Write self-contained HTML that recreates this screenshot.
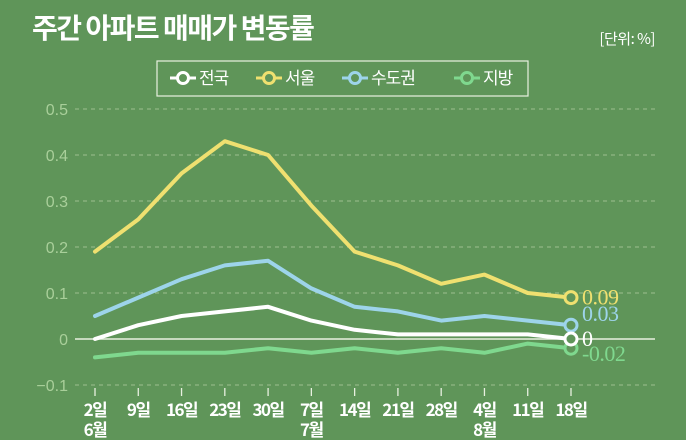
<!DOCTYPE html>
<html><head><meta charset="utf-8"><style>
html,body{margin:0;padding:0;background:#5f9559;}
svg{display:block;font-family:"Liberation Sans","Noto Sans CJK KR",sans-serif;}
</style></head><body>
<svg id="chart" width="686" height="440" viewBox="0 0 686 440">
<rect width="686" height="440" fill="#5f9559"/>
<text x="32" y="38" font-size="28" font-weight="bold" fill="#fff" font-family="'Noto Sans CJK KR',sans-serif" letter-spacing="-1.5">주간 아파트 매매가 변동률</text>
<text x="655" y="44" font-size="15" fill="#fff" text-anchor="end" font-family="'Noto Sans CJK KR',sans-serif" letter-spacing="-0.5">[단위: %]</text>
<g id="legend">
<rect x="157" y="61" width="371" height="35" fill="none" stroke="#e8f0e0" stroke-width="1.2"/>
</g>
<g id="grid"></g><g id="series"></g><g id="xaxis"></g>
</svg>
<script>
const categories=["2일","9일","16일","23일","30일","7일","14일","21일","28일","4일","11일","18일"];
const months=["6월","","","","","7월","","","","8월","",""];
const yTicks=[0.5,0.4,0.3,0.2,0.1,0,-0.1];
const yTickLabels=["0.5","0.4","0.3","0.2","0.1","0","−0.1"];
const seriesNames=["전국","서울","수도권","지방"];
const national=[0,0.03,0.05,0.06,0.07,0.04,0.02,0.01,0.01,0.01,0.01,0];
const seoul=[0.19,0.26,0.36,0.43,0.40,0.29,0.19,0.16,0.12,0.14,0.10,0.09];
const capital=[0.05,0.09,0.13,0.16,0.17,0.11,0.07,0.06,0.04,0.05,0.04,0.03];
const regional=[-0.04,-0.03,-0.03,-0.03,-0.02,-0.03,-0.02,-0.03,-0.02,-0.03,-0.01,-0.02];
const endLabels=["0","0.09","0.03","-0.02"];

const NS="http://www.w3.org/2000/svg";
const x=i=>95+i*(571-95)/(categories.length-1);
const y=v=>339-v*460;
function mk(tag,attrs,parent){const e=document.createElementNS(NS,tag);for(const k in attrs)e.setAttribute(k,attrs[k]);parent.appendChild(e);return e;}
const grid=document.getElementById('grid'),ser=document.getElementById('series'),xa=document.getElementById('xaxis'),leg=document.getElementById('legend');

yTicks.forEach((t,i)=>{
  const l=mk('line',{x1:75,x2:655,y1:y(t),y2:y(t),stroke:t===0?'#e8f0e0':'#9cc08f','stroke-width':t===0?1.5:1,'stroke-dasharray':t===0?'none':'4 4'},grid);
  
  
  const tx=mk('text',{x:68,y:y(t)+6,'font-size':16,fill:'#a9cf9a','text-anchor':'end'},grid);
  tx.textContent=yTickLabels[i];
  
  
});

categories.forEach((c,i)=>{
  const tk=mk('line',{x1:x(i),x2:x(i),y1:y(-0.1)+3,y2:y(-0.1)+11,stroke:'#e8f0e0','stroke-width':1.3},xa);
  
  
  const t=mk('text',{x:x(i),y:416,'font-size':17,'font-weight':'bold',fill:'#fff','text-anchor':'middle','font-family':"'Noto Sans CJK KR',sans-serif",'letter-spacing':'-1.5'},xa);
  t.textContent=c;
  
  
  if(months[i]){
    const m=mk('text',{x:x(i),y:436,'font-size':17,'font-weight':'bold',fill:'#fff','text-anchor':'middle','font-family':"'Noto Sans CJK KR',sans-serif",'letter-spacing':'-1.5'},xa);
    m.textContent=months[i];
    
    
  }
});

const data=[national,seoul,capital,regional];
const colors=["#ffffff","#efe070","#9dd4ea","#7fd88e"];
const order=[3,2,1,0];
const dys=[7,7,-4,13];
order.forEach(s=>{
  const vals=data[s];
  const pts=vals.map((v,i)=>x(i)+','+y(v)).join(' ');
  const pl=mk('polyline',{points:pts,fill:'none',stroke:colors[s],'stroke-width':4,'stroke-linejoin':'round','stroke-linecap':'round'},ser);
  
  
  const n=vals.length-1;
  const c=mk('circle',{cx:x(n),cy:y(vals[n]),r:6,fill:'#5f9559',stroke:colors[s],'stroke-width':3},ser);
  
  
  const t=mk('text',{x:x(n)+11,y:y(vals[n])+dys[s],'font-size':22,fill:colors[s],'font-family':"'Liberation Serif',serif",'letter-spacing':'-0.5'},ser);
  t.textContent=endLabels[s];
  
  
});

const legX=[170,256,342,454];
seriesNames.forEach((nm,i)=>{
  const g=mk('g',{},leg);
  
  
  mk('line',{x1:legX[i],x2:legX[i]+26,y1:78,y2:78,stroke:colors[i],'stroke-width':3},g);
  mk('circle',{cx:legX[i]+13,cy:78,r:5.5,fill:'#5f9559',stroke:colors[i],'stroke-width':3},g);
  const t=mk('text',{x:legX[i]+29,y:84,'font-size':17,fill:'#fff','font-family':"'Noto Sans CJK KR',sans-serif",'letter-spacing':'-1'},g);
  t.textContent=nm;
});
</script>
</body></html>
